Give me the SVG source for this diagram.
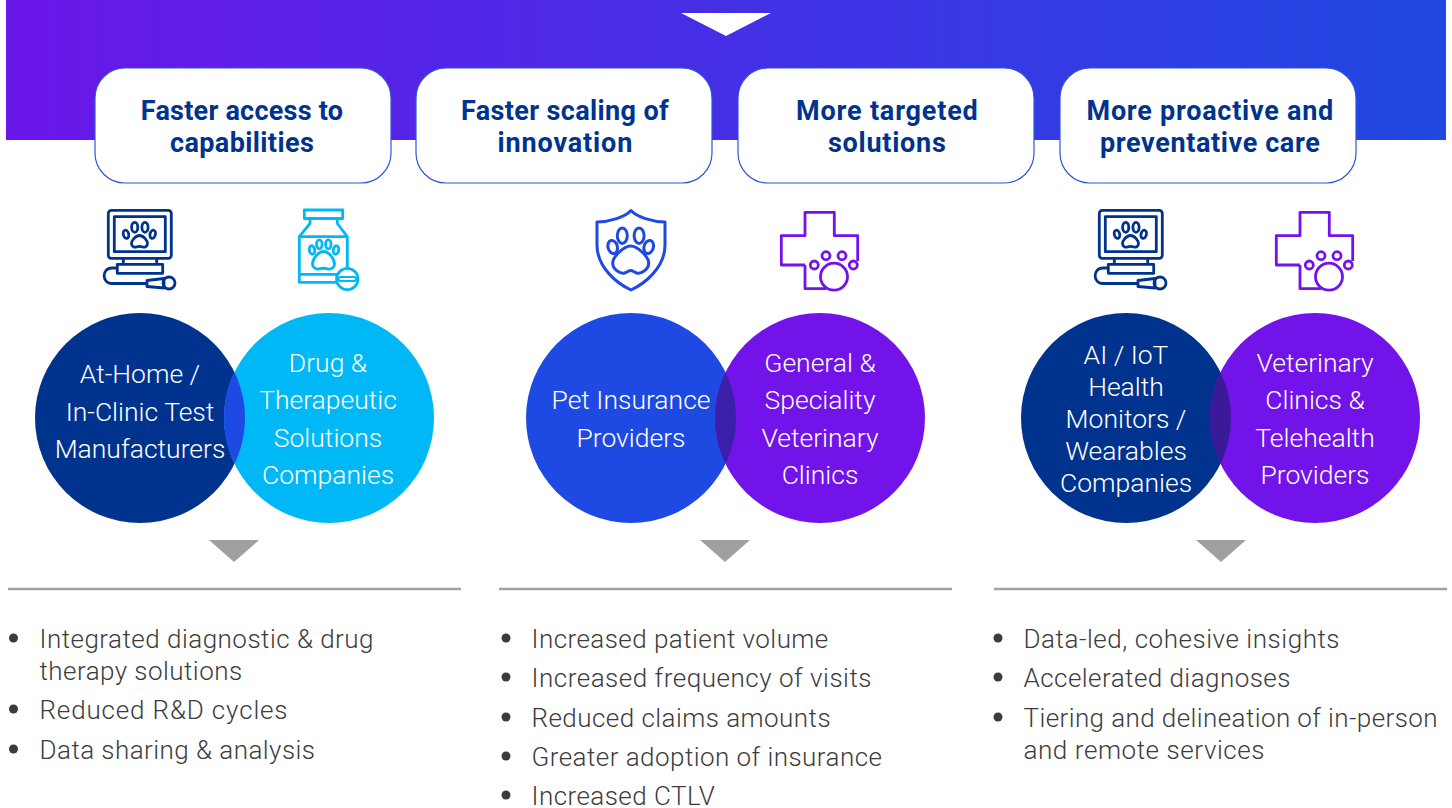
<svg xmlns="http://www.w3.org/2000/svg" xmlns:xlink="http://www.w3.org/1999/xlink" width="1452" height="808" viewBox="0 0 1452 808">
<style>
text{font-family:Roboto,"Liberation Sans",sans-serif}
.h{font-size:27px;font-weight:700;fill:#00338d;text-anchor:middle;letter-spacing:.23px}
.c{font-size:26.500px;font-weight:300;fill:#fff;text-anchor:middle}
.b{font-size:26px;font-weight:300;fill:#3c3c3c;letter-spacing:.45px}
.card{fill:#fff;stroke:#2f55e0;stroke-width:1.2}
.i{fill:none;stroke-width:2.800;stroke-linejoin:round}
.rule{stroke:#a3a3a3;stroke-width:2.500}
.tri{fill:#a0a0a0}
.dot{fill:#3c3c3c}
</style>
<defs>
<linearGradient id="g" x1="6" x2="1446" y1="0" y2="0" gradientUnits="userSpaceOnUse"><stop offset="0" stop-color="#6a16e8"/><stop offset="1" stop-color="#1f48e2"/></linearGradient>
<g id="paw">
<ellipse cx="-18" cy="-3" rx="4.700" ry="6.700" transform="rotate(-15 -18 -3)"/>
<ellipse cx="-8.400" cy="-14.300" rx="5" ry="7.700"/>
<ellipse cx="8.400" cy="-14.300" rx="5" ry="7.700"/>
<ellipse cx="18" cy="-3" rx="4.700" ry="6.700" transform="rotate(15 18 -3)"/>
<path d="M0-4C-7-4-18 7-18 13C-18 20-10 24-6 23C-3 22-2 20.500 0 20.500C2 20.500 3 22 6 23C10 24 18 20 18 13C18 7 7-4 0-4Z"/>
</g>
<g id="monitor">
<rect x="108.300" y="210.300" width="63" height="48" rx="3"/>
<rect x="114.300" y="216.700" width="51" height="35"/>
<path d="M123.300 258.300V264.300M156.700 258.300V264.300"/>
<rect x="117.300" y="264.300" width="45.400" height="9"/>
<path d="M117.300 268H112C101.500 268 101.500 283.500 112 283.500H147"/>
<path d="M147 280.500L164 278.500V288L147 286.500Z"/>
<circle cx="169" cy="283" r="6"/>
<ellipse cx="126" cy="234.300" rx="2.700" ry="4.200" transform="rotate(-15 126 234.300)"/>
<ellipse cx="134.700" cy="227.300" rx="3.100" ry="5"/>
<ellipse cx="145" cy="227.300" rx="3.100" ry="5"/>
<ellipse cx="152.700" cy="234.300" rx="2.700" ry="4.200" transform="rotate(15 152.700 234.300)"/>
<path d="M139.500 235.500C135 235.500 131.500 241 131.500 243.500C131.500 247 134.500 247.500 136.500 247C138.500 246.200 140.500 246.200 142.500 247C144.500 247.500 147.500 247 147.500 243.500C147.500 241 144 235.500 139.500 235.500Z"/>
</g>
<g id="cross">
<path d="M805 265H781.300V235.700H805V212.300H834.300V235.700H857.700V261"/>
<path d="M805 265V288.700H826"/>
<circle cx="814.300" cy="265" r="4"/>
<circle cx="826" cy="255.700" r="4"/>
<circle cx="842" cy="255.700" r="4"/>
<circle cx="853.300" cy="265" r="4"/>
<circle cx="834" cy="276.700" r="13.500"/>
</g>
<clipPath id="c1"><circle cx="140" cy="418" r="105"/></clipPath>
<clipPath id="c2"><circle cx="631" cy="418" r="105"/></clipPath>
<clipPath id="c3"><circle cx="1126" cy="418" r="105"/></clipPath>
</defs>

<g id="banner">
<rect x="6" y="0" width="1440" height="140" fill="url(#g)"/>
<path d="M681 13H771L726 36Z" fill="#fff"/>
</g>

<g id="connectors">
<path class="tri" d="M209 540H259L234 562Z"/>
<path class="tri" d="M700 540H750L725 562Z"/>
<path class="tri" d="M1196 540H1246L1221 562Z"/>
<path class="rule" d="M8 589H461M499 589H952M994 589H1447"/>
</g>

<g id="card-1"><rect class="card" x="95" y="68" width="296" height="115" rx="30"/><text class="h" x="242" y="120">Faster access to</text><text class="h" x="242" y="152" textLength="144">capabilities</text></g>
<g id="card-2"><rect class="card" x="416" y="68" width="296" height="115" rx="30"/><text class="h" x="565" y="120" textLength="208">Faster scaling of</text><text class="h" x="565" y="152" textLength="135">innovation</text></g>
<g id="card-3"><rect class="card" x="738" y="68" width="296" height="115" rx="30"/><text class="h" x="887" y="120" textLength="182">More targeted</text><text class="h" x="887" y="152" textLength="118">solutions</text></g>
<g id="card-4"><rect class="card" x="1060" y="68" width="296" height="115" rx="30"/><text class="h" x="1210" y="120" textLength="247">More proactive and</text><text class="h" x="1210" y="152" textLength="220">preventative care</text></g>

<g id="icon-monitor-1" class="i" stroke="#00338d"><use xlink:href="#monitor" href="#monitor"/></g>
<g id="icon-bottle" class="i" stroke="#00b8f5">
<rect x="304.300" y="210" width="38.400" height="8.500"/>
<path d="M310 218.500V223.500L299.300 236.700V282.300H337M337.300 218.500V223.500L347.300 236.700V268M299.300 236.700H347.300M299.300 274.300H337"/>
<ellipse cx="312" cy="250" rx="2.700" ry="4.300" transform="rotate(-10 312 250)"/>
<ellipse cx="319.300" cy="244.300" rx="2.800" ry="4.500"/>
<ellipse cx="328.300" cy="244.300" rx="2.800" ry="4.500"/>
<ellipse cx="336" cy="250" rx="2.700" ry="4.300" transform="rotate(10 336 250)"/>
<path d="M323.500 251.500C318 251.500 312.500 259 312.500 264C312.500 268 316 269.500 319 269C322 268 325 268 328 269C331 269.500 334.500 268 334.500 264C334.500 259 329 251.500 323.500 251.500Z"/>
<circle cx="347.300" cy="279" r="10.700"/>
<rect x="338.500" y="277" width="17.600" height="4" rx="2" stroke-width="2"/>
</g>
<g id="icon-shield" class="i" stroke="#1e49e2" style="stroke-width:3">
<path d="M631 210.500C625 217 610 222 597 222V245C597 268 618 284 631 290C644 284 665 268 665 245V222C652 222 637 217 631 210.500Z"/>
<use xlink:href="#paw" href="#paw" transform="translate(630.700 250)"/>
</g>
<g id="icon-cross-1" class="i" stroke="#7213ea"><use xlink:href="#cross" href="#cross"/></g>
<g id="icon-monitor-2" class="i" stroke="#00338d"><use xlink:href="#monitor" href="#monitor" transform="translate(991 0)"/></g>
<g id="icon-cross-2" class="i" stroke="#7213ea"><use xlink:href="#cross" href="#cross" transform="translate(495 0)"/></g>

<g id="circle-1a"><circle cx="140" cy="418" r="105" fill="#00338d"/></g>
<g id="circle-1b"><circle cx="329" cy="418" r="105" fill="#00b8f5"/><circle cx="329" cy="418" r="105" fill="#1e49e2" clip-path="url(#c1)"/></g>
<g id="circle-2a"><circle cx="631" cy="418" r="105" fill="#1e49e2"/></g>
<g id="circle-2b"><circle cx="820" cy="418" r="105" fill="#7213ea"/><circle cx="820" cy="418" r="105" fill="#3c1fa8" clip-path="url(#c2)"/></g>
<g id="circle-3a"><circle cx="1126" cy="418" r="105" fill="#00338d"/></g>
<g id="circle-3b"><circle cx="1315" cy="418" r="105" fill="#7213ea"/><circle cx="1315" cy="418" r="105" fill="#3a1a98" clip-path="url(#c3)"/></g>

<g id="labels-1">
<text class="c" x="140" y="383">At-Home /</text><text class="c" x="140" y="421">In-Clinic Test</text><text class="c" x="140" y="458">Manufacturers</text>
<text class="c" x="328" y="372">Drug &amp;</text><text class="c" x="328" y="409">Therapeutic</text><text class="c" x="328" y="447">Solutions</text><text class="c" x="328" y="484">Companies</text>
</g>
<g id="labels-2">
<text class="c" x="631" y="409">Pet Insurance</text><text class="c" x="631" y="447">Providers</text>
<text class="c" x="820" y="372">General &amp;</text><text class="c" x="820" y="409">Speciality</text><text class="c" x="820" y="447">Veterinary</text><text class="c" x="820" y="484">Clinics</text>
</g>
<g id="labels-3">
<text class="c" x="1126" y="364">AI / IoT</text><text class="c" x="1126" y="396">Health</text><text class="c" x="1126" y="428">Monitors /</text><text class="c" x="1126" y="460">Wearables</text><text class="c" x="1126" y="492">Companies</text>
<text class="c" x="1315" y="372">Veterinary</text><text class="c" x="1315" y="409">Clinics &amp;</text><text class="c" x="1315" y="447">Telehealth</text><text class="c" x="1315" y="484">Providers</text>
</g>

<g id="list-1">
<circle class="dot" cx="13.500" cy="638" r="4.500"/><text class="b" x="39.500" y="648" textLength="334.500">Integrated diagnostic &amp; drug</text><text class="b" x="39.500" y="680">therapy solutions</text>
<circle class="dot" cx="13.500" cy="709" r="4.500"/><text class="b" x="39.500" y="719" textLength="248.500">Reduced R&amp;D cycles</text>
<circle class="dot" cx="13.500" cy="749" r="4.500"/><text class="b" x="39.500" y="759">Data sharing &amp; analysis</text>
</g>
<g id="list-2">
<circle class="dot" cx="506" cy="638" r="4.500"/><text class="b" x="531.500" y="648">Increased patient volume</text>
<circle class="dot" cx="506" cy="677" r="4.500"/><text class="b" x="531.500" y="687" textLength="340.500">Increased frequency of visits</text>
<circle class="dot" cx="506" cy="717" r="4.500"/><text class="b" x="531.500" y="727">Reduced claims amounts</text>
<circle class="dot" cx="506" cy="756" r="4.500"/><text class="b" x="531.500" y="766">Greater adoption of insurance</text>
<circle class="dot" cx="506" cy="795" r="4.500"/><text class="b" x="531.500" y="805">Increased CTLV</text>
</g>
<g id="list-3">
<circle class="dot" cx="998" cy="638" r="4.500"/><text class="b" x="1023.500" y="648" textLength="316.500">Data-led, cohesive insights</text>
<circle class="dot" cx="998" cy="677" r="4.500"/><text class="b" x="1023.500" y="687">Accelerated diagnoses</text>
<circle class="dot" cx="998" cy="717" r="4.500"/><text class="b" x="1023.500" y="727" textLength="414.500">Tiering and delineation of in-person</text><text class="b" x="1023.500" y="759" textLength="241.500">and remote services</text>
</g>
</svg>
